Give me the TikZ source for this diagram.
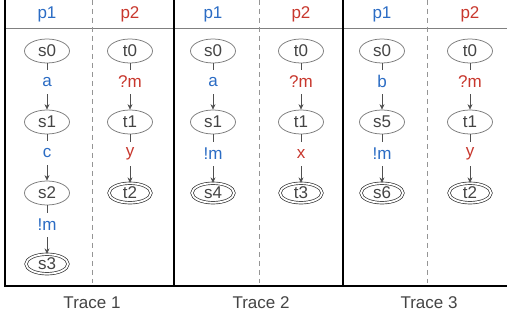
\documentclass[tikz,border=0pt]{standalone}
\usepackage{fontspec}
\setmainfont{Liberation Sans}
\usetikzlibrary{shapes.geometric,arrows.meta}
\definecolor{pblue}{HTML}{2B6CC4}
\definecolor{pred}{HTML}{C8372D}
\definecolor{txtgray}{HTML}{444444}
\definecolor{linegray}{HTML}{7A7A7A}
\definecolor{arrgray}{HTML}{505050}
\begin{document}
\begin{tikzpicture}[x=1pt,y=-1pt,
  state/.style={ellipse,draw=linegray,line width=0.75pt,minimum width=45pt,minimum height=24pt,inner sep=0pt,text=txtgray,font=\fontsize{17}{17}\selectfont},
  accept/.style={state,double=white,draw=black!80,double distance=1.8pt,line width=0.7pt,minimum width=42pt,minimum height=19.5pt},
  trans/.style={draw=arrgray,line width=0.7pt,-{Stealth[length=5.5pt,width=5pt]}},
  lbl/.style={fill=white,inner sep=0pt,minimum height=24pt,pos=0.4,font=\fontsize{17}{17}\selectfont},
  bl/.style={lbl,text=pblue},
  rd/.style={lbl,text=pred},
  head/.style={font=\fontsize{17}{17}\selectfont},
  frame/.style={draw=black,line width=1.5pt},
  sep/.style={draw=linegray!80,line width=0.9pt,dash pattern=on 5pt off 4pt},
  title/.style={text=txtgray,font=\fontsize{17}{17}\selectfont}]
\useasboundingbox (0,0) rectangle (507,320);
% frame
\draw[draw=gray,line width=0.9pt] (5,28) -- (507,28);
\draw[frame] (5,0) -- (5,286) -- (507,286);
\draw[frame] (174,0) -- (174,286);
\draw[frame] (343,0) -- (343,286);
\draw[sep] (92,0) -- (92,283);
\draw[sep] (259,0) -- (259,283);
\draw[sep] (427,0) -- (427,283);
% headers
\node[head,text=pblue] (h1a) at (47,14) {p1};
\node[head,text=pred] (h1b) at (130,14) {p2};
\node[head,text=pblue] (h2a) at (213,14) {p1};
\node[head,text=pred] (h2b) at (301,14) {p2};
\node[head,text=pblue] (h3a) at (382,14) {p1};
\node[head,text=pred] (h3b) at (470,14) {p2};
% trace 1
\node[state] (a0) at (47,51) {s0};
\node[state] (a1) at (47,122) {s1};
\node[state] (a2) at (47,193) {s2};
\node[accept] (a3) at (47,264) {s3};
\draw[trans] (a0) -- node[bl] {a} (a1);
\draw[trans] (a1) -- node[bl] {c} (a2);
\draw[trans] (a2) -- node[bl] {!m} (a3);
\node[state] (b0) at (130,51) {t0};
\node[state] (b1) at (130,122) {t1};
\node[accept] (b2) at (130,193) {t2};
\draw[trans] (b0) -- node[rd] {?m} (b1);
\draw[trans] (b1) -- node[rd] {y} (b2);
% trace 2
\node[state] (c0) at (213,51) {s0};
\node[state] (c1) at (213,122) {s1};
\node[accept] (c2) at (213,193) {s4};
\draw[trans] (c0) -- node[bl] {a} (c1);
\draw[trans] (c1) -- node[bl] {!m} (c2);
\node[state] (d0) at (301,51) {t0};
\node[state] (d1) at (301,122) {t1};
\node[accept] (d2) at (301,193) {t3};
\draw[trans] (d0) -- node[rd] {?m} (d1);
\draw[trans] (d1) -- node[rd] {x} (d2);
% trace 3
\node[state] (e0) at (382,51) {s0};
\node[state] (e1) at (382,122) {s5};
\node[accept] (e2) at (382,193) {s6};
\draw[trans] (e0) -- node[bl] {b} (e1);
\draw[trans] (e1) -- node[bl] {!m} (e2);
\node[state] (f0) at (470,51) {t0};
\node[state] (f1) at (470,122) {t1};
\node[accept] (f2) at (470,193) {t2};
\draw[trans] (f0) -- node[rd] {?m} (f1);
\draw[trans] (f1) -- node[rd] {y} (f2);
% titles
\node[title] (t1) at (92,303) {Trace 1};
\node[title] (t2) at (261,303) {Trace 2};
\node[title] (t3) at (429,303) {Trace 3};
\end{tikzpicture}
\end{document}
